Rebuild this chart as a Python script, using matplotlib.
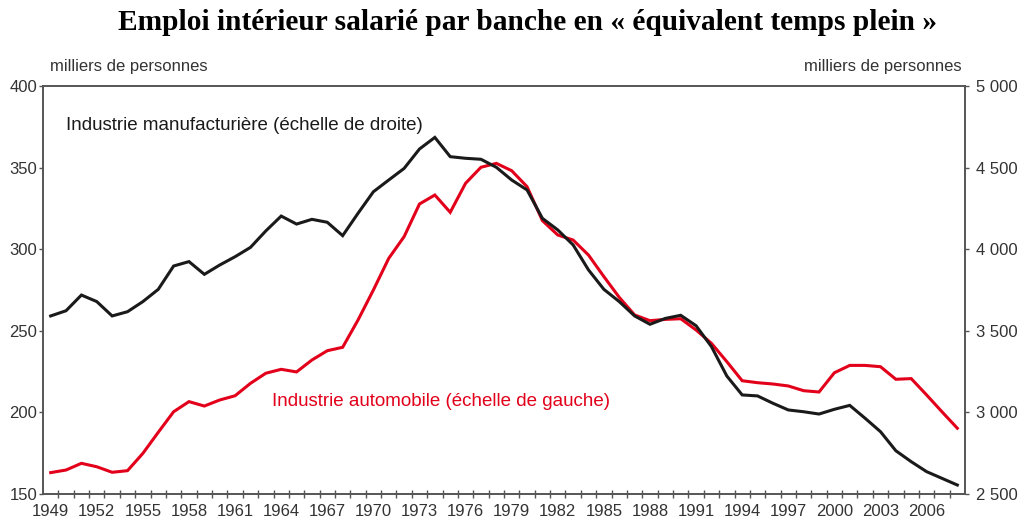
import matplotlib

matplotlib.use("Agg")
import matplotlib.pyplot as plt
import numpy as np

plt.rcParams["font.family"] = ["Liberation Sans", "DejaVu Sans"]

years = list(range(1949, 2009))

# Industrie automobile, milliers de personnes (echelle de gauche)
automobile = [
    163.1, 164.7, 168.8, 166.7, 163.3, 164.3, 174.9, 187.8, 200.4, 206.6,
    203.9, 207.6, 210.2, 217.8, 224.0, 226.4, 224.8, 232.1, 237.8, 239.9,
    256.6, 275.0, 294.4, 307.7, 327.7, 333.2, 322.6, 340.4, 350.2, 352.6,
    348.1, 338.3, 317.5, 308.7, 305.6, 296.4, 283.2, 270.5, 259.7, 256.2,
    257.0, 257.4, 250.5, 242.3, 231.1, 219.4, 218.2, 217.4, 216.2, 213.3,
    212.5, 224.3, 228.8, 228.8, 228.0, 220.3, 220.7, 210.7, 200.4, 190.3,
]
# Industrie manufacturiere, milliers de personnes (echelle de droite)
manufacturiere = [
    3591, 3623, 3719, 3679, 3591, 3617, 3679, 3754, 3897, 3924,
    3846, 3903, 3954, 4011, 4112, 4203, 4154, 4183, 4165, 4083,
    4220, 4352, 4424, 4495, 4614, 4685, 4567, 4557, 4551, 4502,
    4424, 4363, 4189, 4118, 4026, 3873, 3754, 3679, 3591, 3540,
    3576, 3595, 3531, 3403, 3223, 3107, 3101, 3056, 3015, 3004,
    2990, 3019, 3043, 2964, 2882, 2765, 2698, 2637, 2596, 2555,
]

left_ticks = [150, 200, 250, 300, 350, 400]
right_ticks = [2500, 3000, 3500, 4000, 4500, 5000]
label_years = list(range(1949, 2009, 3))

RED = "#e2001a"
BLACK = "#1a1a1a"
SPINE = "#555555"
TEXT = "#333333"

fig = plt.figure(figsize=(10.19, 5.2), dpi=100)
ax = fig.add_axes([43 / 1019, 1 - 494 / 520, (965 - 43) / 1019, (494 - 86) / 520])
ax2 = ax.twinx()

ax.plot(years, automobile, color=RED, lw=2.2, solid_joinstyle="miter")
ax2.plot(years, manufacturiere, color=BLACK, lw=2.2, solid_joinstyle="miter")

ax.set_xlim(1948.5, 2008.5)
ax.set_ylim(150, 400)
ax2.set_ylim(2500, 5000)

ax.set_yticks(left_ticks)
ax.set_yticklabels([str(v) for v in left_ticks])
ax2.set_yticks(right_ticks)
ax2.set_yticklabels([f"{v:,}".replace(",", " ") for v in right_ticks])

ax.set_xticks(label_years)
ax.set_xticklabels([str(y) for y in label_years])
ax.set_xticks(np.arange(1949.5, 2008, 1.0), minor=True)
ax.tick_params(axis="x", which="major", length=0, pad=7, labelsize=12, labelcolor=TEXT)
ax.tick_params(axis="x", which="minor", direction="inout", length=6, width=1, color=SPINE)
ax.tick_params(axis="y", length=3, width=1, color=SPINE, pad=1, labelsize=12, labelcolor=TEXT)
ax2.tick_params(axis="y", length=3, width=1, color=SPINE, pad=5, labelsize=12, labelcolor=TEXT)

for a in (ax, ax2):
    for s in a.spines.values():
        s.set_color(SPINE)
        s.set_linewidth(1.2)

ax.text(1950.0, 376, "Industrie manufacturière (échelle de droite)", fontsize=13.5,
        color=BLACK, va="center", ha="left")
ax.text(1963.4, 206.5, "Industrie automobile (échelle de gauche)", fontsize=13.5,
        color=RED, va="center", ha="left")

fig.text(50 / 1019, 1 - 67 / 520, "milliers de personnes", fontsize=12, color=TEXT,
         ha="left", va="center")
fig.text(962 / 1019, 1 - 67 / 520, "milliers de personnes", fontsize=12, color=TEXT,
         ha="right", va="center")
fig.text(527 / 1019, 1 - 23 / 520, "Emploi intérieur salarié par banche en « équivalent temps plein »",
         fontsize=21.2, fontweight="bold", family=["Liberation Serif", "DejaVu Serif"],
         ha="center", va="center", color="black")

fig.savefig("out.png", dpi=100)
